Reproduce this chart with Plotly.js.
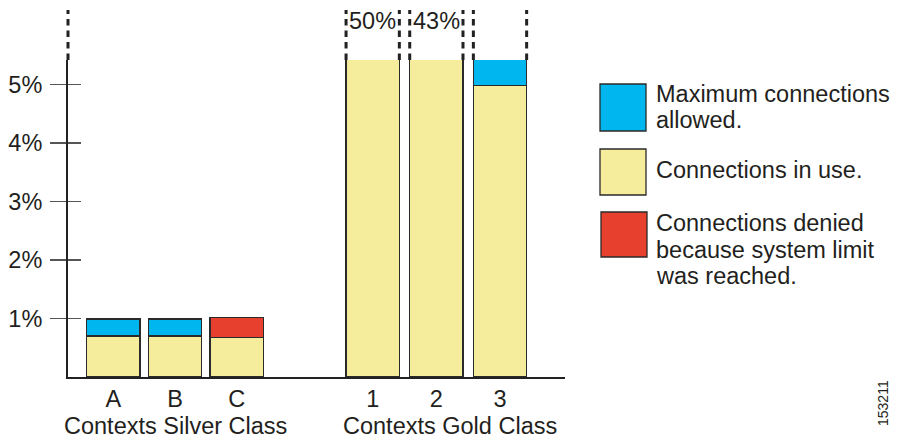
<!DOCTYPE html>
<html>
<head>
<meta charset="utf-8">
<script src="https://cdn.plot.ly/plotly-3.0.1.min.js"></script>
<style>html,body{margin:0;padding:0;background:#fff}#chart{width:897px;height:438px}</style>
</head>
<body>
<div id="chart"></div>
<script>
// ---- data ----
const silverCategories = ['A', 'B', 'C'];
const goldCategories = ['1', '2', '3'];
const groupNames = ['Contexts Silver Class', 'Contexts Gold Class'];
const seriesNames = ['Maximum connections allowed.', 'Connections in use.', 'Connections denied because system limit was reached.'];
const legendLines = [['Maximum connections', 'allowed.'], ['Connections in use.'], ['Connections denied', 'because system limit', 'was reached.']];
const silverInUse = [0.70, 0.70, 0.68];
const silverMax = [0.29, 0.29, null];
const silverDenied = [null, null, 0.34];
const goldInUse = [50, 43, 4.98];
const goldMax = [null, null, 0.45];
const goldDenied = [null, null, null];
const yTickValues = [1, 2, 3, 4, 5];
const yVisibleMax = 5.42;
const figureId = '153211';

// ---- styles ----
const colors = { max: '#00b6ef', use: '#f5ed9b', denied: '#e8402f' };
const edge = { color: '#2a2a2a', width: 1.3 };
const textColor = '#231f20';
const FONT = 'Liberation Sans, Arial, Helvetica, sans-serif';
const FS = 23.5;

// pixel frame of the plot area
const L = 68, R = 565, T = 60, B = 377, W = 897, H = 438;
const px = x => (x - L) / (R - L);
const py = y => (B - y) / (B - T);

const silverWidth = 0.864, goldWidth = 0.837;

function barTrace(cats, vals, color, name, xa, w) {
  return {
    type: 'bar', x: cats, y: vals, name: name, xaxis: xa, yaxis: 'y',
    width: cats.map(() => w),
    marker: { color: color, line: edge },
    showlegend: false, hoverinfo: 'skip'
  };
}

const data = [
  barTrace(silverCategories, silverInUse, colors.use, seriesNames[1], 'x', silverWidth),
  barTrace(silverCategories, silverMax, colors.max, seriesNames[0], 'x', silverWidth),
  barTrace(silverCategories, silverDenied, colors.denied, seriesNames[2], 'x', silverWidth),
  barTrace(goldCategories, goldInUse, colors.use, seriesNames[1], 'x2', goldWidth),
  barTrace(goldCategories, goldMax, colors.max, seriesNames[0], 'x2', goldWidth),
  barTrace(goldCategories, goldDenied, colors.denied, seriesNames[2], 'x2', goldWidth),
  // empty trace to activate the tick-crossing overlay axis
  { type: 'scatter', x: [silverCategories[0]], y: [null], xaxis: 'x', yaxis: 'y2', mode: 'markers', marker: { opacity: 0 }, showlegend: false, hoverinfo: 'skip' }
];

const split = px(305);
const shapes = [];
const annotations = [];
const dash = '6.5px,5px';
const dashTop = py(10);

// y axis broken continuation
shapes.push({ type: 'line', xref: 'paper', yref: 'paper', x0: 0, x1: 0, y0: 1.0, y1: dashTop, line: { color: '#222', width: 3, dash: dash } });

// gold bars: broken tops
goldCategories.forEach((c, i) => {
  [i - goldWidth / 2, i + goldWidth / 2].forEach(xv => {
    shapes.push({ type: 'line', xref: 'x2', yref: 'paper', x0: xv, x1: xv, y0: 1.0, y1: dashTop, line: { color: '#222', width: 3, dash: dash } });
  });
  const total = (goldInUse[i] || 0) + (goldMax[i] || 0) + (goldDenied[i] || 0);
  if (goldInUse[i] > yVisibleMax && !goldMax[i]) {
    annotations.push({ xref: 'x2', yref: 'paper', x: i, y: py(21), text: total + '%', showarrow: false,
      font: { family: FONT, size: FS, color: textColor }, xanchor: 'center', yanchor: 'middle' });
  }
});

// group names
annotations.push({ xref: 'paper', yref: 'paper', x: px(175), y: py(425.5), text: groupNames[0], showarrow: false,
  font: { family: FONT, size: FS, color: textColor }, xanchor: 'center', yanchor: 'middle' });
annotations.push({ xref: 'paper', yref: 'paper', x: px(450), y: py(425.5), text: groupNames[1], showarrow: false,
  font: { family: FONT, size: FS, color: textColor }, xanchor: 'center', yanchor: 'middle' });

// custom legend
const legendBoxes = [
  { color: colors.max, x0: 600, x1: 646, y0: 84, y1: 131, firstLine: 93.5 },
  { color: colors.use, x0: 600, x1: 646, y0: 149, y1: 195, firstLine: 170 },
  { color: colors.denied, x0: 601, x1: 647, y0: 212, y1: 257, firstLine: 223 }
];
const lineGap = 26.5;
legendBoxes.forEach((b, k) => {
  shapes.push({ type: 'rect', xref: 'paper', yref: 'paper', x0: px(b.x0), x1: px(b.x1), y0: py(b.y1), y1: py(b.y0),
    fillcolor: b.color, line: { color: '#2a2a2a', width: 1.3 } });
  legendLines[k].forEach((t, j) => {
    annotations.push({ xref: 'paper', yref: 'paper', x: px(654), y: py(b.firstLine + j * lineGap), text: t, showarrow: false,
      font: { family: FONT, size: FS, color: textColor }, xanchor: 'left', yanchor: 'middle' });
  });
});

// figure id
annotations.push({ xref: 'paper', yref: 'paper', x: px(883), y: py(403), text: figureId, showarrow: false, textangle: -90,
  font: { family: FONT, size: 14, color: textColor }, xanchor: 'center', yanchor: 'middle' });

const layout = {
  width: W, height: H,
  margin: { l: L, r: W - R, t: T, b: H - B, pad: 0 },
  paper_bgcolor: '#fff', plot_bgcolor: '#fff',
  barmode: 'stack',
  showlegend: false,
  font: { family: FONT, size: FS, color: textColor },
  xaxis: {
    domain: [0, split], type: 'category', range: [-0.734, 3.107],
    showline: true, linecolor: '#222', linewidth: 2, showgrid: false, zeroline: false,
    ticks: '', ticklabelstandoff: 0, tickfont: { family: FONT, size: FS, color: textColor }, fixedrange: true
  },
  xaxis2: {
    domain: [split, 1], type: 'category', range: [-1.0636, 3.021], anchor: 'y',
    showline: true, linecolor: '#222', linewidth: 2, showgrid: false, zeroline: false,
    ticks: '', ticklabelstandoff: 0, tickfont: { family: FONT, size: FS, color: textColor }, fixedrange: true
  },
  yaxis: {
    range: [0, yVisibleMax], tickvals: yTickValues, ticktext: yTickValues.map(v => v + '%'),
    ticks: 'outside', ticklen: 16, tickwidth: 1.5, tickcolor: '#555',
    showline: true, linecolor: '#222', linewidth: 2, showgrid: false, zeroline: false,
    ticklabelstandoff: 3, tickfont: { family: FONT, size: FS, color: textColor }, fixedrange: true
  },
  yaxis2: {
    overlaying: 'y', side: 'left', anchor: 'x', range: [0, yVisibleMax], tickvals: yTickValues,
    ticks: 'inside', ticklen: 13, tickwidth: 1.5, tickcolor: '#555', showticklabels: false,
    showline: false, showgrid: false, zeroline: false, fixedrange: true
  },
  shapes: shapes,
  annotations: annotations
};

Plotly.newPlot('chart', data, layout, { staticPlot: true, displayModeBar: false });
</script>
</body>
</html>
